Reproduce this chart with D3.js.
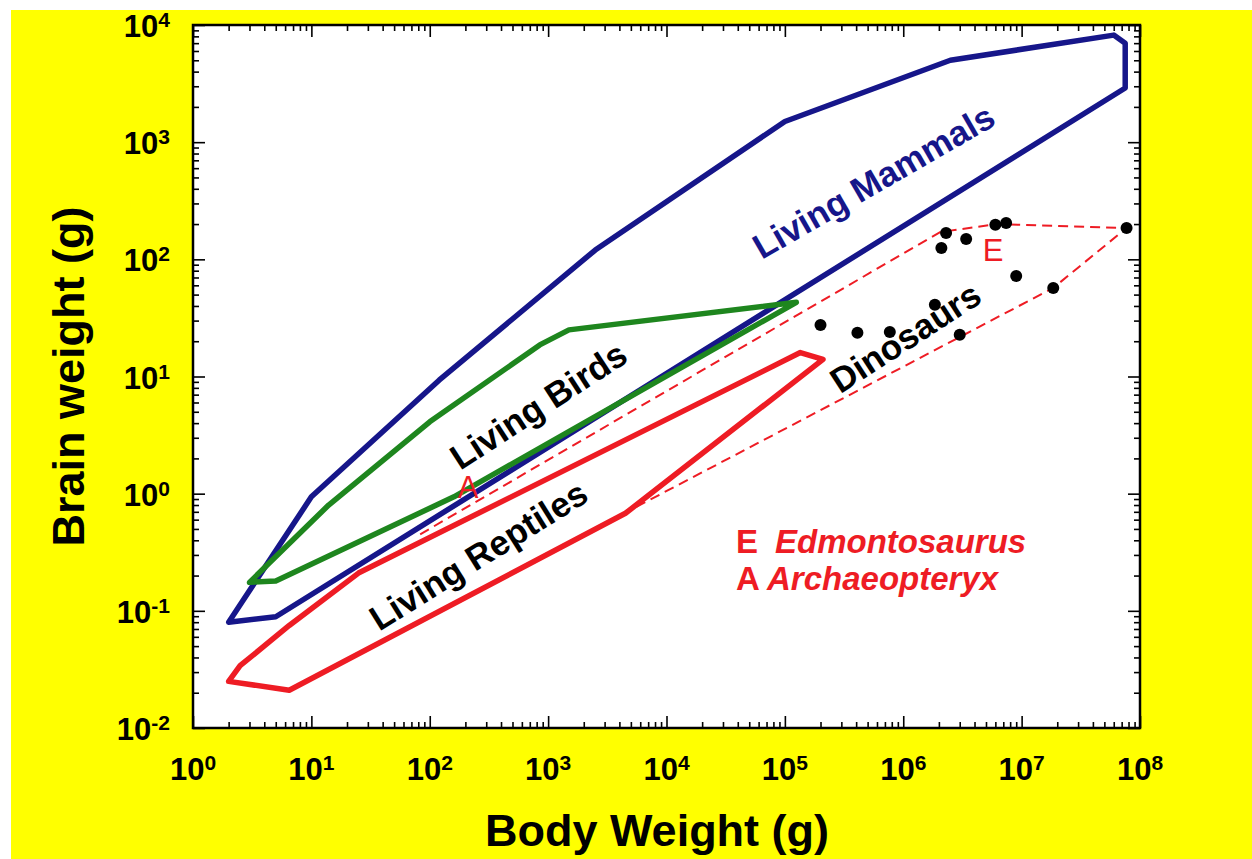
<!DOCTYPE html>
<html>
<head>
<meta charset="utf-8">
<script src="https://cdn.jsdelivr.net/npm/d3@7"></script>
<style>
  body { margin: 0; background: #fff; }
  svg { display: block; font-family: Arial, "Liberation Sans", sans-serif; }
</style>
</head>
<body>
<div id="chart"></div>
<script>
// tick labels (powers of ten)
const xTickExp = [0, 1, 2, 3, 4, 5, 6, 7, 8];
const yTickExp = [-2, -1, 0, 1, 2, 3, 4];

// living mammals outline (body g, brain g)
const mammalsBody  = [2, 10, 120, 2500, 1e5, 2.5e6, 6e7, 7.5e7, 7.5e7, 5];
const mammalsBrain = [0.08, 0.94, 9.3, 120, 1500, 5000, 8200, 7000, 2900, 0.089];

// living birds outline
const birdsBody  = [3, 14, 100, 850, 1500, 1.25e5, 160, 5];
const birdsBrain = [0.175, 0.8, 4.1, 18.6, 25, 43, 0.94, 0.18];

// living reptiles outline
const reptilesBody  = [2, 2.5, 6.5, 25, 1.35e5, 2.1e5, 4500, 6.5];
const reptilesBrain = [0.025, 0.034, 0.075, 0.21, 16, 14, 0.68, 0.021];

// dinosaur envelope (dashed, open)
const dinoBody  = [83, 2.05e6, 6.2e6, 7.7e7, 1.85e7, 4450];
const dinoBrain = [0.45, 171, 200, 185, 57, 0.685];

// fossil dinosaurs
const fossilBody  = [2e5, 4.1e5, 7.7e5, 1.85e6, 3e6, 2.1e6, 2.3e6, 3.4e6, 6e6, 7.4e6, 9e6, 1.85e7, 7.7e7];
const fossilBrain = [27.5, 23.6, 24, 41, 22.7, 125, 168, 149, 197, 204, 72, 57, 185];

const width = 1252, height = 859;
const margin = {top: 25, right: 112, bottom: 131, left: 193};

const navy = '#16168a', green = '#1e861e', red = '#ee1c24';

const svg = d3.select('#chart').append('svg')
  .attr('width', width)
  .attr('height', height);

svg.append('rect')
  .attr('x', 11).attr('y', 10)
  .attr('width', width - 11).attr('height', height - 10)
  .attr('fill', '#ffff00');

const x = d3.scaleLog()
  .domain([1, 1e8])
  .range([margin.left, width - margin.right]);

const y = d3.scaleLog()
  .domain([0.01, 1e4])
  .range([height - margin.bottom, margin.top]);

const pBottom = y(0.01), pTop = y(1e4), pLeft = x(1), pRight = x(1e8);

svg.append('rect')
  .attr('x', pLeft).attr('y', pTop)
  .attr('width', pRight - pLeft).attr('height', pBottom - pTop)
  .attr('fill', '#fff');

const isMajor = d => Math.abs(Math.log10(d) - Math.round(Math.log10(d))) < 1e-9;
const xMinor = x.ticks().filter(d => !isMajor(d));
const yMinor = y.ticks().filter(d => !isMajor(d));
const xMajor = xTickExp.map(e => Math.pow(10, e));
const yMajor = yTickExp.map(e => Math.pow(10, e));

function ticks(axisFn, scale, values, size, transform) {
  svg.append('g')
    .attr('transform', transform)
    .call(axisFn(scale).tickValues(values).tickSize(size).tickSizeOuter(0).tickFormat(''))
    .call(g => g.select('.domain').remove())
    .call(g => g.selectAll('line').attr('stroke', '#000').attr('stroke-width', 1.6));
}

ticks(d3.axisBottom, x, xMinor, -6, `translate(0,${pBottom})`);
ticks(d3.axisBottom, x, xMajor, -12, `translate(0,${pBottom})`);
ticks(d3.axisTop, x, xMinor, -6, `translate(0,${pTop})`);
ticks(d3.axisTop, x, xMajor, -12, `translate(0,${pTop})`);
ticks(d3.axisLeft, y, yMinor, -6, `translate(${pLeft},0)`);
ticks(d3.axisLeft, y, yMajor, -12, `translate(${pLeft},0)`);
ticks(d3.axisRight, y, yMinor, -6, `translate(${pRight},0)`);
ticks(d3.axisRight, y, yMajor, -12, `translate(${pRight},0)`);

svg.append('rect')
  .attr('x', pLeft).attr('y', pTop)
  .attr('width', pRight - pLeft).attr('height', pBottom - pTop)
  .attr('fill', 'none').attr('stroke', '#000').attr('stroke-width', 2.5);

// tick labels with superscript exponents
const xl = svg.append('g').selectAll('text')
  .data(xTickExp).join('text')
  .attr('x', d => x(Math.pow(10, d)))
  .attr('y', 780)
  .attr('text-anchor', 'middle')
  .attr('font-size', 31).attr('font-weight', 'bold');
xl.append('tspan').text('10');
xl.append('tspan').attr('dy', -10).attr('font-size', 21).text(d => d);

const yl = svg.append('g').selectAll('text')
  .data(yTickExp).join('text')
  .attr('x', 170)
  .attr('y', d => y(Math.pow(10, d)) + 12)
  .attr('text-anchor', 'end')
  .attr('font-size', 31).attr('font-weight', 'bold');
yl.append('tspan').text('10');
yl.append('tspan').attr('dy', -10).attr('font-size', 21).text(d => d);

// axis titles
svg.append('text')
  .attr('x', 657).attr('y', 846)
  .attr('text-anchor', 'middle')
  .attr('font-size', 45).attr('font-weight', 'bold')
  .text('Body Weight (g)');

svg.append('text')
  .attr('transform', `translate(84,${(pTop + pBottom) / 2}) rotate(-90)`)
  .attr('text-anchor', 'middle')
  .attr('font-size', 45).attr('font-weight', 'bold')
  .text('Brain weight (g)');

// outlines
const line = d3.line().x(d => x(d[0])).y(d => y(d[1]));
const pts = (a, b) => a.map((v, i) => [v, b[i]]);

const outline = (xs, ys, color, w, closed, dash) => svg.append('path')
  .attr('d', line(pts(xs, ys)) + (closed ? 'Z' : ''))
  .attr('fill', 'none')
  .attr('stroke', color)
  .attr('stroke-width', w)
  .attr('stroke-linejoin', 'round')
  .attr('stroke-dasharray', dash || null);

outline(mammalsBody, mammalsBrain, navy, 5.5, true);
outline(dinoBody, dinoBrain, red, 2, false, '10,6');
outline(reptilesBody, reptilesBrain, red, 5.5, true);
outline(birdsBody, birdsBrain, green, 5.5, true);

svg.append('g').selectAll('circle')
  .data(pts(fossilBody, fossilBrain)).join('circle')
  .attr('cx', d => x(d[0]))
  .attr('cy', d => y(d[1]))
  .attr('r', 6)
  .attr('fill', '#000');

// region labels
const label = (px, py, angle, txt, color, size) => svg.append('text')
  .attr('transform', `translate(${px},${py}) rotate(${angle})`)
  .attr('text-anchor', 'middle')
  .attr('dominant-baseline', 'middle')
  .attr('font-size', size).attr('font-weight', 'bold')
  .attr('fill', color)
  .text(txt);

label(875, 184, -30, 'Living Mammals', navy, 35);
label(540, 408, -33, 'Living Birds', '#000', 35);
label(480, 558, -32, 'Living Reptiles', '#000', 35);
label(907, 340, -33, 'Dinosaurs', '#000', 35);

svg.append('text').attr('x', 993).attr('y', 261).attr('text-anchor', 'middle')
  .attr('font-size', 31).attr('fill', red).text('E');
svg.append('text').attr('x', 468).attr('y', 498).attr('text-anchor', 'middle')
  .attr('font-size', 31).attr('fill', red).text('A');

// key
const key = svg.append('g').attr('font-size', 33).attr('font-weight', 'bold').attr('fill', red);
const k1 = key.append('text').attr('y', 553);
k1.append('tspan').attr('x', 736).text('E');
k1.append('tspan').attr('x', 775).attr('font-style', 'italic').text('Edmontosaurus');
const k2 = key.append('text').attr('y', 590);
k2.append('tspan').attr('x', 736).text('A');
k2.append('tspan').attr('x', 767).attr('font-style', 'italic').text('Archaeopteryx');
</script>
</body>
</html>
